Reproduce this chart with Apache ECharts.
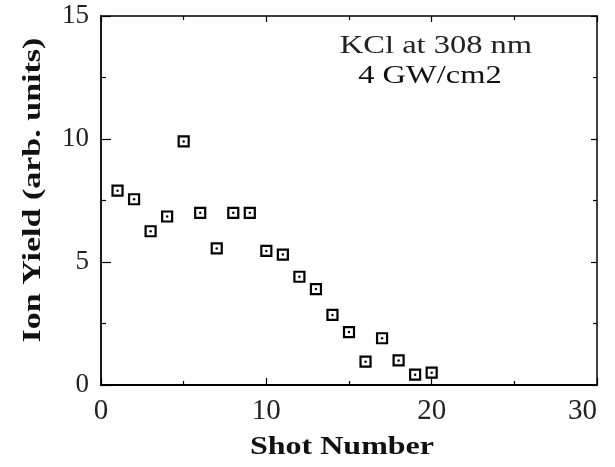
<!DOCTYPE html>
<html>
<head>
<meta charset="utf-8">
<script src="https://cdn.jsdelivr.net/npm/echarts@6/dist/echarts.min.js"></script>
<style>
  html, body { margin: 0; padding: 0; background: #fff; }
  #chart { width: 615px; height: 467px; }
</style>
</head>
<body>
<div id="chart"></div>
<script>
// shot number and ion yield
const shots = [1, 2, 3, 4, 5, 6, 7, 8, 9, 10, 11, 12, 13, 14, 15, 16, 17, 18, 19, 20]
const ionYield = [7.9, 7.55, 6.25, 6.85, 9.9, 7.0, 5.55, 7.0, 7.0, 5.45, 5.3, 4.4, 3.9, 2.85, 2.15, 0.95, 1.9, 1.0, 0.42, 0.5]
const xTicks = [0, 10, 20, 30]
const yTicks = [0, 5, 10, 15]

const points = shots.map((s, i) => [s, ionYield[i]])
const serif = '"Liberation Serif", "DejaVu Serif", serif'

const chart = echarts.init(document.getElementById('chart'))

const tickStyle = { color: '#000', width: 1.2 }

const option = {
  backgroundColor: '#fff',
  animation: false,
  grid: {
    left: 101,
    right: 18,
    top: 16,
    bottom: 82,
    show: false
  },
  xAxis: [
    {
      type: 'value',
      min: xTicks[0],
      max: xTicks[xTicks.length - 1],
      interval: 10,
      axisLine: { show: true, onZero: false, lineStyle: { color: '#000', width: 1.8 } },
      axisTick: { show: true, inside: true, length: 7, lineStyle: tickStyle },
      minorTick: { show: true, splitNumber: 2, length: 4, lineStyle: tickStyle },
      splitLine: { show: false },
      axisLabel: {
        color: '#222',
        fontFamily: serif,
        fontSize: 29,
        margin: 12,
        alignMaxLabel: 'right'
      }
    },
    {
      type: 'value',
      position: 'top',
      min: xTicks[0],
      max: xTicks[xTicks.length - 1],
      interval: 10,
      axisLine: { show: true, onZero: false, lineStyle: { color: '#000', width: 1.5 } },
      axisTick: { show: true, inside: true, length: 6, lineStyle: tickStyle },
      minorTick: { show: true, splitNumber: 2, length: 4, lineStyle: tickStyle },
      splitLine: { show: false },
      axisLabel: { show: false }
    }
  ],
  yAxis: [
    {
      type: 'value',
      min: yTicks[0],
      max: yTicks[yTicks.length - 1],
      interval: 5,
      axisLine: { show: true, onZero: false, lineStyle: { color: '#000', width: 1.8 } },
      axisTick: { show: true, inside: true, length: 10, lineStyle: tickStyle },
      minorTick: { show: true, splitNumber: 2, length: 5, lineStyle: tickStyle },
      splitLine: { show: false },
      axisLabel: {
        color: '#222',
        fontFamily: serif,
        fontSize: 27,
        margin: 12
      }
    },
    {
      type: 'value',
      position: 'right',
      min: yTicks[0],
      max: yTicks[yTicks.length - 1],
      interval: 5,
      axisLine: { show: true, onZero: false, lineStyle: { color: '#000', width: 1.5 } },
      axisTick: { show: true, inside: true, length: 6, lineStyle: tickStyle },
      minorTick: { show: true, splitNumber: 2, length: 4, lineStyle: tickStyle },
      splitLine: { show: false },
      axisLabel: { show: false }
    }
  ],
  graphic: [
    {
      type: 'text',
      x: 342,
      y: 448,
      scaleX: 1.28,
      style: {
        text: 'Shot Number',
        font: 'bold 25px ' + serif,
        fill: '#111',
        textAlign: 'center',
        textVerticalAlign: 'middle'
      }
    },
    {
      type: 'text',
      x: 34,
      y: 190,
      rotation: Math.PI / 2,
      scaleX: 1.36,
      style: {
        text: 'Ion Yield (arb. units)',
        font: 'bold 25px ' + serif,
        fill: '#111',
        textAlign: 'center',
        textVerticalAlign: 'middle'
      }
    },
    {
      type: 'text',
      x: 436,
      y: 46,
      scaleX: 1.3,
      style: {
        text: 'KCl at 308 nm',
        font: '25px ' + serif,
        fill: '#222',
        textAlign: 'center',
        textVerticalAlign: 'middle'
      }
    },
    {
      type: 'text',
      x: 430,
      y: 76,
      scaleX: 1.3,
      style: {
        text: '4 GW/cm2',
        font: '25px ' + serif,
        fill: '#111',
        textAlign: 'center',
        textVerticalAlign: 'middle'
      }
    }
  ],
  series: [
    {
      type: 'scatter',
      data: points,
      symbol: 'rect',
      symbolSize: 10,
      itemStyle: { color: '#fff', borderColor: '#000', borderWidth: 2.2, opacity: 1 },
      z: 3
    },
    {
      type: 'scatter',
      data: points,
      symbol: 'circle',
      symbolSize: 2.5,
      itemStyle: { color: '#000', opacity: 1 },
      z: 4
    }
  ]
}

chart.setOption(option)
</script>
</body>
</html>
